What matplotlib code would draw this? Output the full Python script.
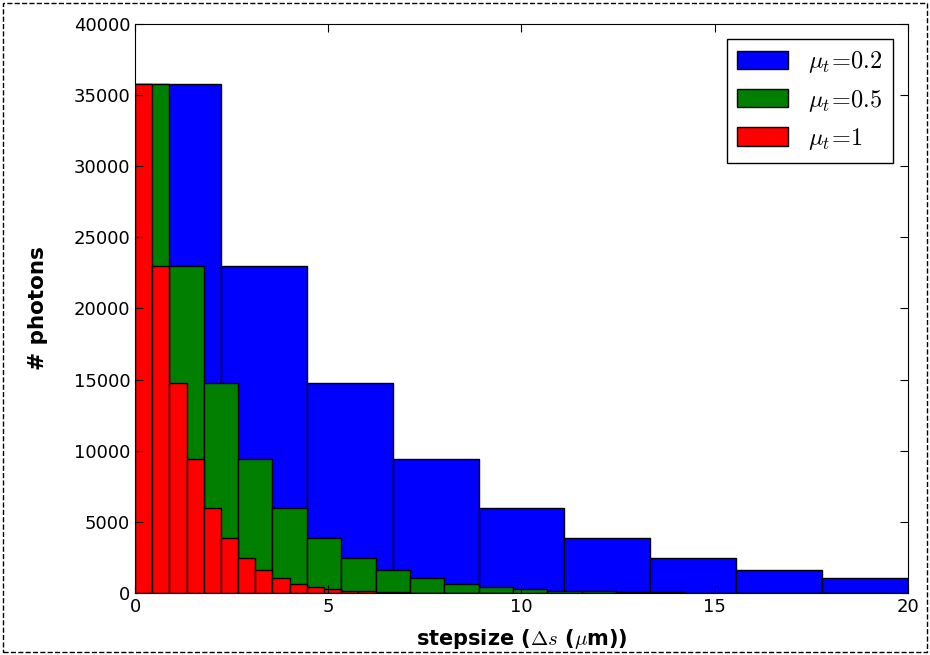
import numpy as np
import matplotlib
matplotlib.use("Agg")
import matplotlib.pyplot as plt
from matplotlib.patches import Rectangle

# bin widths per series (um) and counts
width_blue = 20.0 / 9
width_green = 8.0 / 9
width_red = 4.0 / 9

counts_blue = [35800, 23000, 14750, 9450, 6000, 3850, 2480, 1580, 1060]
counts_green = [35800, 23000, 14750, 9450, 6000, 3850, 2480, 1580, 1030,
                650, 420, 270, 170, 110, 70, 45, 30, 20, 12, 8, 5, 3]
counts_red = [35800, 23000, 14750, 9450, 6000, 3850, 2480, 1580, 1030,
              650, 420, 270, 170, 110, 70, 45, 30, 20, 12, 8, 5, 3]

labels = [r"$\mu_t\!=\!0.2$", r"$\mu_t\!=\!0.5$", r"$\mu_t\!=\!1$"]
colors = ["#0000ff", "#007f00", "#ff0000"]

plt.rcParams["mathtext.fontset"] = "cm"
plt.rcParams["font.family"] = "DejaVu Sans"

fig = plt.figure(figsize=(9.3, 6.55), dpi=100)
ax = fig.add_axes([0.1452, 0.0947, 0.8311, 0.8687])

series = [(counts_blue, width_blue), (counts_green, width_green), (counts_red, width_red)]
for (counts, w), lab, c in zip(series, labels, colors):
    edges = np.arange(len(counts)) * w
    ax.bar(edges, counts, width=w, align="edge", color=c,
           edgecolor="black", linewidth=1.0, label=lab)

ax.set_xlim(0, 20)
ax.set_ylim(0, 40000)
ax.set_xticks([0, 5, 10, 15, 20])
ax.set_yticks(np.arange(0, 40001, 5000))
ax.tick_params(direction="in", length=6, top=True, right=True, labelsize=13)
ax.set_xlabel(r"stepsize ($\Delta s$ ($\mu$m))", fontsize=15, fontweight="bold", labelpad=8)
ax.set_ylabel("# photons", fontsize=15.5, fontweight="bold", labelpad=18)

leg = ax.legend(loc="upper right", fontsize=17.5, fancybox=False, framealpha=1,
                edgecolor="black", handlelength=2.1, handleheight=0.8,
                borderpad=0.45, labelspacing=0.5, borderaxespad=0.6)
leg.get_frame().set_linewidth(1.0)

# dashed border around the whole figure
fig.patches.append(Rectangle((0.003, 0.004), 0.994, 0.992, transform=fig.transFigure,
                             fill=False, edgecolor="black", linestyle="--", linewidth=1.0))

fig.savefig("out.png", dpi=100)
